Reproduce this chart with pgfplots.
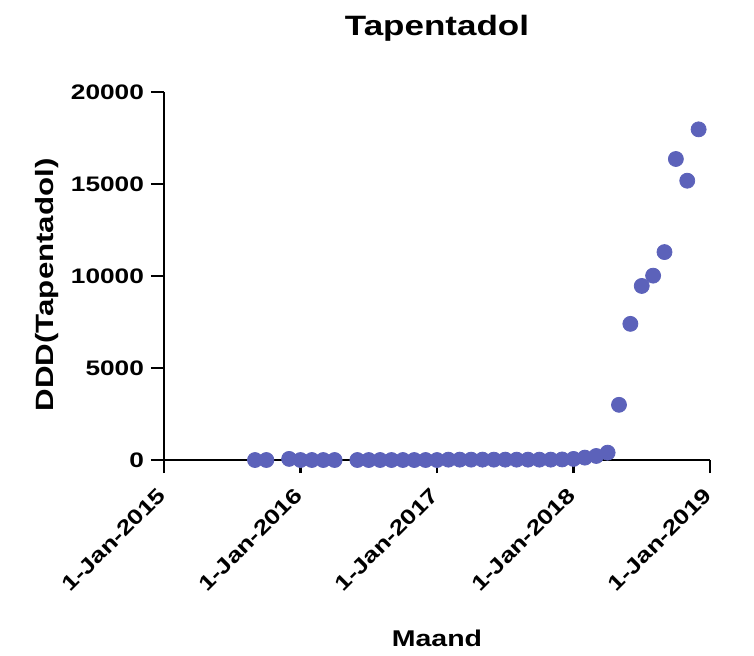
\documentclass[border=0pt]{standalone}
\usepackage{fontspec}
\setmainfont[FakeStretch=1.25]{Liberation Sans}
\usepackage{pgfplots}
\pgfplotsset{compat=1.18}
\definecolor{dot}{RGB}{92,98,186}
\begin{document}
\begin{tikzpicture}
\useasboundingbox (-82pt,-97.5pt) rectangle (295pt,230pt);
\begin{axis}[
  at={(0,0)}, anchor=south west,
  scale only axis, width=273pt, height=184pt,
  xmin=0, xmax=48, ymin=0, ymax=20000,
  axis x line*=bottom, axis y line*=left,
  axis line style={-, black, line width=1.2pt},
  tick align=outside, major tick length=6.5pt,
  tick style={black, line width=1.2pt},
  xtick={0,12,24,36,48},
  xticklabels={1-Jan-2015,1-Jan-2016,1-Jan-2017,1-Jan-2018,1-Jan-2019},
  ytick={0,5000,10000,15000,20000},
  /pgf/number format/1000 sep={},
  /pgf/number format/assume math mode=true,
  scaled y ticks=false,
  ticklabel style={font=\bfseries\fontsize{10.5}{12}\selectfont},
  xticklabel style={rotate=45, anchor=east, xshift=-3.8pt, yshift=-5.8pt},
  title={Tapentadol},
  title style={font=\bfseries\fontsize{14}{16}\selectfont, at={(axis description cs:0.5,1)}, anchor=base, yshift=22.5pt},
  xlabel={Maand},
  xlabel style={font=\bfseries\fontsize{11.4}{13}\selectfont, at={(axis description cs:0.5,0)}, anchor=base, yshift=-93pt},
  ylabel={DDD(Tapentadol)},
  ylabel style={font=\bfseries\fontsize{12.5}{14}\selectfont, at={(axis description cs:-0.2033,0.476)}, anchor=base},
  clip=false,
]
\addplot[only marks, mark=*, mark size=3.75pt, mark options={draw=dot, fill=dot}] table {
x y
8 0
9 0
11 60
12 0
13 0
14 0
15 0
17 0
18 0
19 0
20 0
21 0
22 0
23 0
24 0
25 20
26 20
27 20
28 20
29 20
30 20
31 20
32 20
33 20
34 20
35 30
36 60
37 130
38 220
39 400
40 3000
41 7400
42 9460
43 10020
44 11300
45 16360
46 15180
47 17970
};
\end{axis}
\end{tikzpicture}
\end{document}
